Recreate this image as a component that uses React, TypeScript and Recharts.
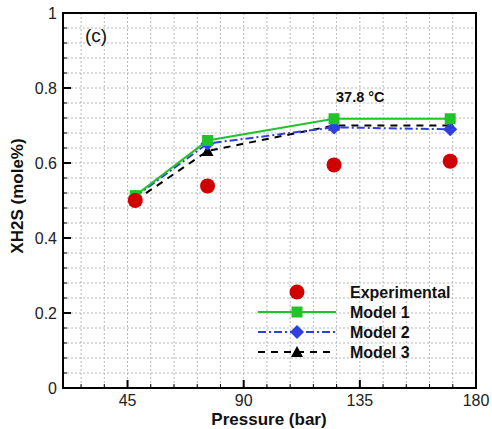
import React from 'react';
import {
  ComposedChart, Line, Scatter, XAxis, YAxis, CartesianGrid, ReferenceArea,
} from 'recharts';

const pressures = [48, 76, 125, 170];
const experimental = [0.5, 0.539, 0.595, 0.605];
const model1 = [0.513, 0.66, 0.718, 0.718];
const model2 = [0.51, 0.652, 0.695, 0.69];
const model3 = [0.5, 0.632, 0.7, 0.7];

const xTicks = [27, 36, 45, 54, 63, 72, 81, 90, 99, 108, 117, 126, 135, 144, 153, 162, 171, 180];
const xLabels = [45, 90, 135, 180];
const yTicks = [0, 0.04, 0.08, 0.12, 0.16, 0.2, 0.24, 0.28, 0.32, 0.36, 0.4, 0.44, 0.48, 0.52, 0.56,
  0.6, 0.64, 0.68, 0.72, 0.76, 0.8, 0.84, 0.88, 0.92, 0.96, 1];
const yLabels = ['0', '0.2', '0.4', '0.6', '0.8', '1'];

const rows = pressures.map((p, i) => ({
  p, exp: experimental[i], m1: model1[i], m2: model2[i], m3: model3[i],
}));

const FONT = 'Arial, "Liberation Sans", sans-serif';
const RED = '#d00000';
const GREEN = '#22c32a';
const BLUE = '#2f3fe0';

const XTick = (props: any) => {
  const { x, y, payload } = props;
  const major = xLabels.includes(payload.value);
  return (
    <g>
      <line x1={x} y1={y} x2={x} y2={y - (major ? 8 : 4)} stroke="#000" strokeWidth={major ? 2 : 1} />
      {major && (
        <text x={x} y={y + 18} textAnchor="middle" fontSize={16} fill="#222" fontFamily={FONT}>
          {payload.value}
        </text>
      )}
    </g>
  );
};

const YTick = (props: any) => {
  const { x, y, payload } = props;
  const label = yLabels.find((l) => Math.abs(parseFloat(l) - payload.value) < 1e-6);
  return (
    <g>
      <line x1={x} y1={y} x2={x + (label ? 8 : 4)} y2={y} stroke="#000" strokeWidth={label ? 2 : 1} />
      {label && (
        <text x={x - 6} y={y + 6} textAnchor="end" fontSize={16} fill="#222" fontFamily={FONT}>
          {label}
        </text>
      )}
    </g>
  );
};

const Square = (props: any) => {
  const { cx, cy } = props;
  if (cx == null || cy == null) return null;
  return <rect x={cx - 5.5} y={cy - 5.5} width={11} height={11} fill={GREEN} />;
};
const Diamond = (props: any) => {
  const { cx, cy } = props;
  if (cx == null || cy == null) return null;
  return <path d={`M${cx},${cy - 7} L${cx + 7},${cy} L${cx},${cy + 7} L${cx - 7},${cy} Z`} fill={BLUE} />;
};
const Triangle = (props: any) => {
  const { cx, cy } = props;
  if (cx == null || cy == null) return null;
  return <path d={`M${cx},${cy - 6} L${cx + 6},${cy + 5} L${cx - 6},${cy + 5} Z`} fill="#000" />;
};
const Circle = (props: any) => {
  const { cx, cy } = props;
  if (cx == null || cy == null) return null;
  return <circle cx={cx} cy={cy} r={7.5} fill={RED} />;
};

const legendItems = [
  { name: 'Experimental', kind: 'exp' },
  { name: 'Model 1', kind: 'm1' },
  { name: 'Model 2', kind: 'm2' },
  { name: 'Model 3', kind: 'm3' },
];

const LegendBox = ({ left, top }: { left: number; top: number }) => (
  <g transform={`translate(${left},${top})`}>
    {legendItems.map((it, i) => {
      const y = i * 20;
      const cx = 39;
      return (
        <g key={it.name}>
          {it.kind === 'm1' && <line x1={0} x2={78} y1={y} y2={y} stroke={GREEN} strokeWidth={2} />}
          {it.kind === 'm2' && <line x1={0} x2={78} y1={y} y2={y} stroke={BLUE} strokeWidth={2} strokeDasharray="8 3 2 3" />}
          {it.kind === 'm3' && <line x1={0} x2={78} y1={y} y2={y} stroke="#000" strokeWidth={2} strokeDasharray="7 6" />}
          {it.kind === 'exp' && <Circle cx={cx} cy={y} />}
          {it.kind === 'm1' && <Square cx={cx} cy={y} />}
          {it.kind === 'm2' && <Diamond cx={cx} cy={y} />}
          {it.kind === 'm3' && <Triangle cx={cx} cy={y} />}
          <text x={92} y={y + 6} fontSize={16} fontWeight="bold" fill="#111" fontFamily={FONT}>{it.name}</text>
        </g>
      );
    })}
  </g>
);

export default function App() {
  return (
    <div style={{ position: 'absolute', left: 0, top: 0, width: 492, height: 429, background: '#fff' }}>
      <ComposedChart width={492} height={429} data={rows} margin={{ top: 13, right: 16, bottom: 11, left: 18 }}>
        <CartesianGrid stroke="#b8b8b8" strokeDasharray="2 2" strokeWidth={1} />
        <XAxis
          type="number" dataKey="p" domain={[20, 180]} ticks={xTicks} interval={0}
          allowDataOverflow axisLine={false} tickLine={false} tickSize={0} tickMargin={0}
          height={30} tick={<XTick />}
        />
        <YAxis
          type="number" domain={[0, 1]} ticks={yTicks} interval={0} allowDataOverflow
          axisLine={false} tickLine={false} tickSize={0} tickMargin={0} width={45} tick={<YTick />}
        />
        <ReferenceArea x1={20} x2={180} y1={0} y2={1} fill="none" stroke="#000" strokeWidth={2} ifOverflow="visible" />
        <Line dataKey="m3" stroke="#000" strokeWidth={2} strokeDasharray="7 6" dot={<Triangle />} isAnimationActive={false} />
        <Line dataKey="m2" stroke={BLUE} strokeWidth={2} strokeDasharray="8 3 2 3" dot={<Diamond />} isAnimationActive={false} />
        <Line dataKey="m1" stroke={GREEN} strokeWidth={2} dot={<Square />} isAnimationActive={false} />
        <Scatter dataKey="exp" shape={<Circle />} isAnimationActive={false} />
        <LegendBox left={258} top={292} />
        <text x={85} y={42} fontSize={19} fill="#111" fontFamily={FONT}>(c)</text>
        <text x={336} y={102} fontSize={14.5} fontWeight="bold" fill="#111" fontFamily={FONT}>37.8 °C</text>
        <text x={269} y={425} textAnchor="middle" fontSize={17} fontWeight="bold" fill="#111" fontFamily={FONT}>Pressure (bar)</text>
        <text x={23} y={196} transform="rotate(-90 23 196)" textAnchor="middle" fontSize={17} fontWeight="bold" fill="#111" fontFamily={FONT}>XH2S (mole%)</text>
      </ComposedChart>
    </div>
  );
}
